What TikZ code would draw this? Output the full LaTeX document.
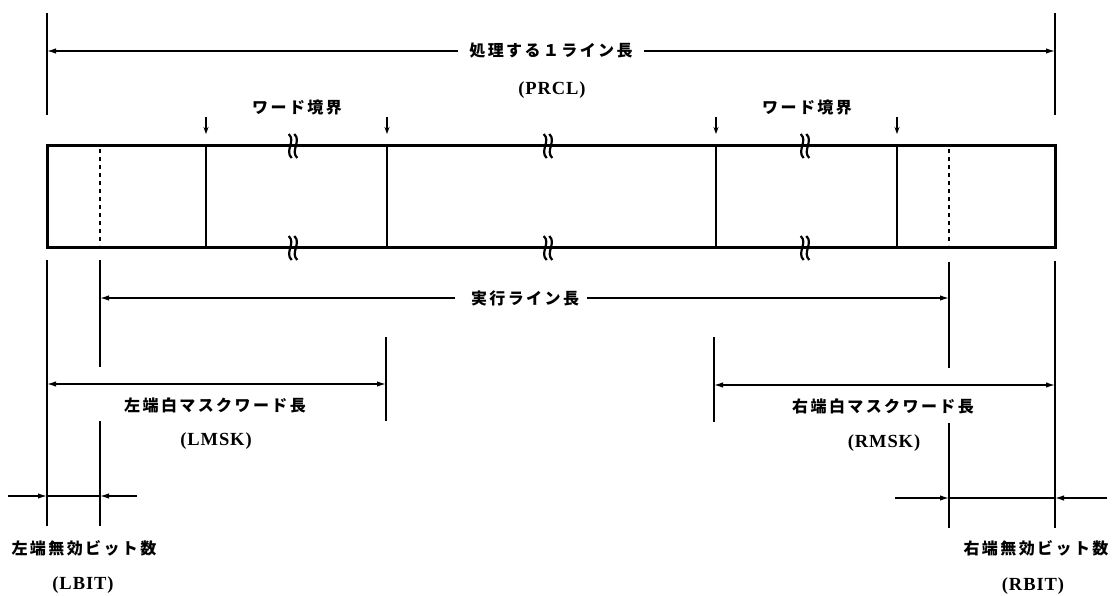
\documentclass[tikz,border=0pt]{standalone}
\usepackage{fontspec}
\setmainfont{Liberation Serif}
\newfontfamily\jpfont{Noto Sans CJK JP}[LetterSpace=15]
\newfontfamily\lafont{Liberation Serif}[LetterSpace=5]
\usetikzlibrary{arrows.meta}
\tikzset{
  boxline/.style={line width=3pt},
  divline/.style={line width=1.6pt},
  extline/.style={line width=1.5pt},
  dimline/.style={line width=1.4pt},
  tipend/.style={-{Latex[length=9pt,width=5.5pt]}},
  bothtips/.style={{Latex[length=9pt,width=5.5pt]}-{Latex[length=9pt,width=5.5pt]}},
  downtip/.style={line width=1.3pt,-{Stealth[length=7pt,width=5pt]}},
  wave/.style={line width=2.2pt},
  jlabel/.style={font=\jpfont\bfseries\fontsize{16}{18}\selectfont, inner sep=0pt},
  llabel/.style={font=\lafont\bfseries\fontsize{18.5}{20}\selectfont, inner sep=0pt},
}
\begin{document}
\begin{tikzpicture}[x=1pt,y=-1pt]
\fill[white] (0,0) rectangle (1114,596);
\useasboundingbox (0,0) rectangle (1114,596);

% main box
\coordinate (boxTL) at (47,146);
\coordinate (boxBR) at (1055,248);
\draw[boxline] (boxTL) rectangle (boxBR);

% word boundary dividers
\foreach \x/\n in {206/a,387/b,716/c,897/d}{
  \coordinate (dt\n) at (\x,146);
  \coordinate (db\n) at (\x,248);
  \coordinate (ar\n) at (\x,117);
  \coordinate (ah\n) at (\x,134);
  \draw[divline] (dt\n) -- (db\n);
  \draw[downtip] (ar\n) -- (ah\n);
}
% dashed lines (invalid bits)
\foreach \x/\n in {100/l,949/r}{
  \coordinate (dst\n) at (\x,149);
  \coordinate (dsb\n) at (\x,245);
  \draw[divline,dash pattern=on 4pt off 4pt] (dst\n) -- (dsb\n);
}
% break marks
\foreach \x in {293,548,805}{
  \foreach \y in {146,248}{
    \foreach \d in {-2.8,2.8}{
      \draw[wave] (\x+\d-1.5,\y-12) .. controls (\x+\d+6,\y-5) and (\x+\d-6,\y+5) .. (\x+\d+1.5,\y+12);
    }
  }
}

% extension lines
\coordinate (eLt1) at (47,13);   \coordinate (eLt2) at (47,115);
\coordinate (eRt1) at (1055,13); \coordinate (eRt2) at (1055,115);
\coordinate (eLb1) at (47,260);  \coordinate (eLb2) at (47,526);
\coordinate (eRb1) at (1055,261);\coordinate (eRb2) at (1055,528);
\coordinate (eA1) at (100,260);  \coordinate (eA2) at (100,367);
\coordinate (eA3) at (100,421);  \coordinate (eA4) at (100,526);
\coordinate (eB1) at (949,262);  \coordinate (eB2) at (949,368);
\coordinate (eB3) at (949,423);  \coordinate (eB4) at (949,528);
\coordinate (eC1) at (386,337);  \coordinate (eC2) at (386,421);
\coordinate (eD1) at (714,337);  \coordinate (eD2) at (714,422);
\foreach \a/\b in {eLt1/eLt2,eRt1/eRt2,eLb1/eLb2,eRb1/eRb2,eA1/eA2,eA3/eA4,eB1/eB2,eB3/eB4,eC1/eC2,eD1/eD2}{
  \draw[extline] (\a) -- (\b);
}

% top dimension (PRCL)
\coordinate (pL) at (47,51);
\coordinate (pR) at (1055,51);
\node[jlabel] (prc) at (551,51) {処理する１ライン長};
\node[llabel] (prcl) at (552,90) {(PRCL)};
\draw[dimline,tipend] ([xshift=-11pt]prc.west) -- (pL);
\draw[dimline,tipend] ([xshift=11pt]prc.east) -- (pR);

% word boundary labels
\node[jlabel] (wb1) at (297,108) {ワード境界};
\node[jlabel] (wb2) at (807,108) {ワード境界};

% execution line length
\coordinate (xL) at (100,298);
\coordinate (xR) at (949,298);
\node[jlabel] (exe) at (525,298) {実行ライン長};
\draw[dimline,tipend] ([xshift=-16pt]exe.west) -- (xL);
\draw[dimline,tipend] ([xshift=8pt]exe.east) -- (xR);

% LMSK
\coordinate (lmL) at (47,384);
\coordinate (lmR) at (386,384);
\draw[dimline,bothtips] (lmL) -- (lmR);
\node[jlabel] (lmsk) at (215,405) {左端白マスクワード長};
\node[llabel] (lmskc) at (216,441) {(LMSK)};

% RMSK
\coordinate (rmL) at (714,385);
\coordinate (rmR) at (1055,385);
\draw[dimline,bothtips] (rmL) -- (rmR);
\node[jlabel] (rmsk) at (883,406) {右端白マスクワード長};
\node[llabel] (rmskc) at (884,443) {(RMSK)};

% LBIT
\coordinate (lb0) at (8,496);
\coordinate (lb1) at (47,496);
\coordinate (lb2) at (100,496);
\coordinate (lb3) at (137,496);
\draw[dimline,tipend] (lb0) -- (lb1);
\draw[dimline] (lb1) -- (lb2);
\draw[dimline,tipend] (lb3) -- (lb2);
\node[jlabel] (lbit) at (84,548) {左端無効ビット数};
\node[llabel] (lbitc) at (83,585) {(LBIT)};

% RBIT
\coordinate (rb0) at (895,498);
\coordinate (rb1) at (949,498);
\coordinate (rb2) at (1055,498);
\coordinate (rb3) at (1107,498);
\draw[dimline,tipend] (rb0) -- (rb1);
\draw[dimline] (rb1) -- (rb2);
\draw[dimline,tipend] (rb3) -- (rb2);
\node[jlabel] (rbit) at (1036,548) {右端無効ビット数};
\node[llabel] (rbitc) at (1033,586) {(RBIT)};
\end{tikzpicture}
\end{document}
